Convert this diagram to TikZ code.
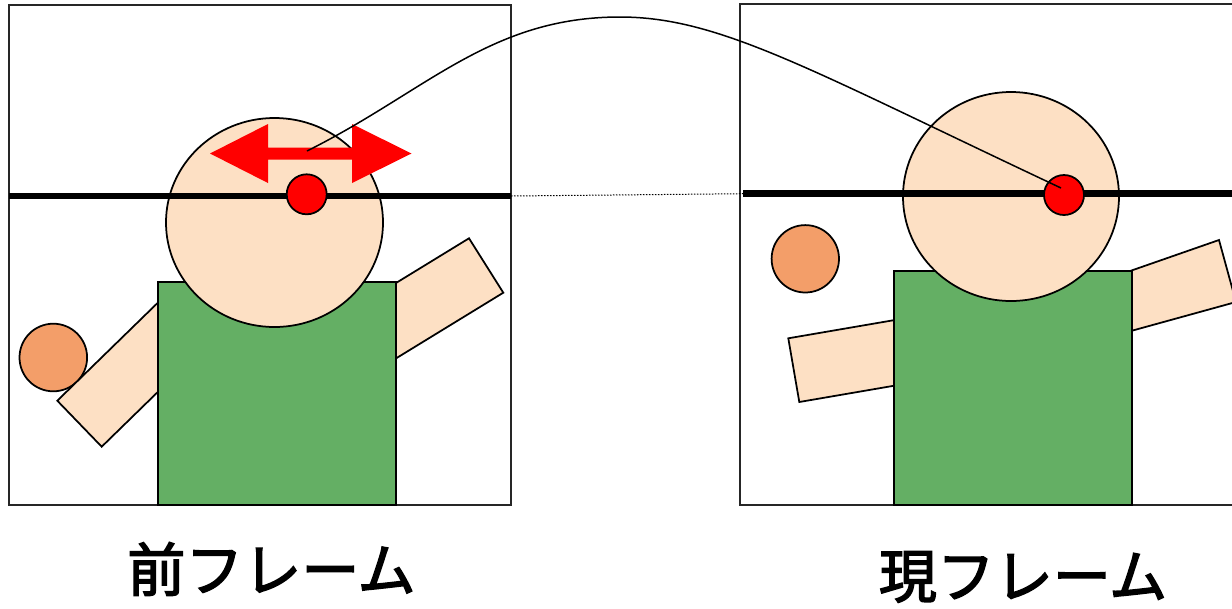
\documentclass[tikz,border=0pt]{standalone}
\usepackage{fontspec}
\newfontfamily\jpfont{Noto Sans CJK JP}[FakeBold=2.5]
\usetikzlibrary{calc}

\definecolor{skin}{RGB}{253,224,196}
\definecolor{shirt}{RGB}{100,175,100}
\definecolor{ballcol}{RGB}{243,158,105}

\tikzset{
	framebox/.style={line width=0.25mm, draw=black!85},
	outline/.style={draw=black, line width=0.35mm},
	skinpart/.style={outline, fill=skin},
	shirtpart/.style={outline, fill=shirt},
	ballpart/.style={outline, fill=ballcol},
	thickbar/.style={line width=1.3mm},
	reddot/.style={circle, draw=black, line width=0.35mm, fill=red, minimum size=8mm, inner sep=0pt},
	framelabel/.style={font=\jpfont\fontsize{33}{36}\selectfont, inner sep=0pt}
}

\begin{document}
\begin{tikzpicture}[x=0.2mm, y=-0.2mm]
			%%%%% START %%%%%
			\useasboundingbox (0,0) rectangle (1232,608);
			
			% previous frame
			\draw[framebox] (9,5) rectangle (511,505);
			\draw[ballpart] (53.3,357.5) circle (33.8);
			\draw[skinpart] (57.3,400.7) -- (101.7,446.7) -- (209,342) -- (164.7,296) -- cycle;
			\draw[skinpart] (469,238.3) -- (503.3,292.7) -- (383.9,365.8) -- (349.6,311.4) -- cycle;
			\draw[shirtpart] (158.3,281.7) rectangle (395.7,505);
			\draw[skinpart] (274.5,222.5) ellipse [x radius=108.5, y radius=104.5];
			\draw[thickbar] (9,196) -- (511,196) coordinate (prevbarend);
			\node[reddot] (prevpt) at (306.7,194.3) {};
			\fill[red] (210,153.5) -- (268,124) -- (268,147.5) -- (352,147.5) -- (352,124)
				-- (411.5,153.5) -- (352,183) -- (352,159.5) -- (268,159.5) -- (268,183) -- cycle;
			\coordinate (prevmid) at (307,151);
			
			% current frame
			\draw[framebox] (740,4) rectangle (1250,505);
			\draw[ballpart] (805.3,258.8) circle (33.7);
			\draw[skinpart] (788.3,338.3) -- (799.3,402) -- (937.3,378.3) -- (926.3,314.6) -- cycle;
			\draw[skinpart] (1110,278) -- (1219,240) -- (1236,302) -- (1120,334) -- cycle;
			\draw[shirtpart] (894,270.7) rectangle (1132.3,505);
			\draw[skinpart] (1011,196.5) ellipse [x radius=108, y radius=104.5];
			\draw[thickbar] (743,193.7) coordinate (curbarstart) -- (1240,193.7);
			\node[reddot] (curpt) at (1064,195) {};
			\coordinate (curtip) at (1061,188);
			
			% link between the frames
			\draw[line width=0.2mm, dash pattern=on 0.3mm off 0.3mm] (prevbarend) -- (curbarstart);
			\coordinate (crest) at (620,17);
			\draw[line width=0.3mm] (prevmid) .. controls (427,91) and (490,17) .. (crest)
				.. controls (720,17) and (811,70.5) .. (curtip);
			
			\node[framelabel] (prevlabel) at (271.5,569) {前フレーム};
			\node[framelabel] (curlabel) at (1023,577) {現フレーム};
			%%%%% END %%%%%
\end{tikzpicture}
\end{document}
